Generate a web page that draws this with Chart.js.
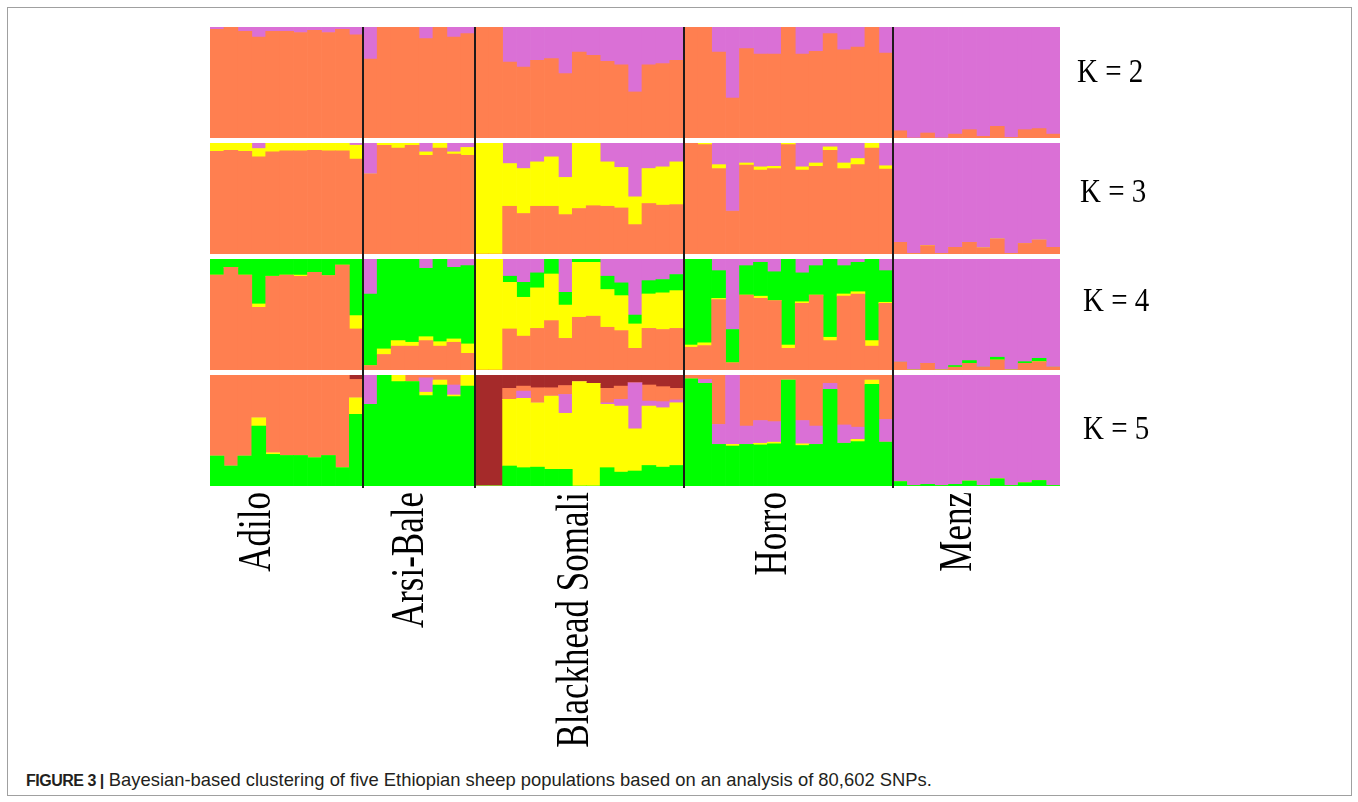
<!DOCTYPE html>
<html>
<head>
<meta charset="utf-8">
<script src="https://cdn.jsdelivr.net/npm/chart.js@4.4.1/dist/chart.umd.min.js"></script>
<style>
  body { margin: 0; background: #fff; width: 1358px; height: 802px; position: relative; overflow: hidden; }
  .frame { position: absolute; left: 7px; top: 7px; width: 1343px; height: 787px; border: 1px solid #a0a0a0; }
  .panel { position: absolute; left: 200px; width: 960px; }
  .caption { position: absolute; left: 26px; top: 769px; font: 18.4px 'Liberation Sans', Arial, sans-serif; color: #231f20; white-space: nowrap; }
  .caption b { font-weight: bold; font-size: 16px; letter-spacing: -0.5px; }
</style>
</head>
<body>
<div class="frame"></div>
<div class="panel" style="top:27px;height:111px"><canvas id="k2"></canvas></div>
<div class="panel" style="top:138px;height:116px"><canvas id="k3"></canvas></div>
<div class="panel" style="top:254px;height:116px"><canvas id="k4"></canvas></div>
<div class="panel" style="top:370px;height:385px"><canvas id="k5"></canvas></div>
<div class="caption"><b>FIGURE 3 |</b> Bayesian-based clustering of five Ethiopian sheep populations based on an analysis of 80,602 SNPs.</div>

<script>
// populations and sample counts (61 individuals)
const populations = ['Adilo', 'Arsi-Bale', 'Blackhead Somali', 'Horro', 'Menz'];
const popSizes = [11, 8, 15, 15, 12];

// cluster membership per individual
// order in each array: Adilo | Arsi-Bale | Blackhead Somali | Horro | Menz
const k2Orange = [
  .98, 1, .96, .91, .96, .96, .95, .97, .95, .98, .93,
  .71, 1, 1, 1, .895, 1, .91, .94,
  1, 1, .685, .64, .70, .715, .58, .775, .745, .69, .66, .415, .66, .67, .70,
  1, 1, .775, .36, .805, .755, .755, 1, .755, .78, .94, .795, .82, 1, .765,
  .065, 0, .045, 0, .035, .075, .015, .105, .005, .075, .085, .035];
const k2Purple = [
  .02, 0, .04, .09, .04, .04, .05, .03, .05, .02, .07,
  .29, 0, 0, 0, .105, 0, .09, .06,
  0, 0, .315, .36, .30, .285, .42, .225, .255, .31, .34, .585, .34, .33, .30,
  0, 0, .225, .64, .195, .245, .245, 0, .245, .22, .06, .205, .18, 0, .235,
  .935, 1, .955, 1, .965, .925, .985, .895, .995, .925, .915, .965];

const k3Orange = [
  .925, .935, .925, .875, .92, .93, .93, .935, .93, .93, .855,
  .72, .98, .955, .98, .89, .955, .9, .89,
  0, 0, .43, .365, .43, .43, .355, .41, .435, .43, .415, .265, .455, .44, .445,
  1, .985, .77, .385, .80, .755, .77, .985, .755, .79, .935, .77, .805, .955, .765,
  .105, .005, .075, .005, .06, .105, .055, .135, .005, .095, .125, .06];
const k3Yellow = [
  .075, .065, .075, .075, .08, .07, .07, .065, .07, .07, .125,
  0, .02, .045, .02, .03, .045, .02, .07,
  1, 1, .385, .405, .40, .445, .335, .59, .565, .40, .365, .25, .315, .345, .385,
  0, .015, .035, 0, .02, .03, .02, .015, .03, .03, .03, .05, .055, .045, .03,
  0, 0, 0, 0, 0, 0, 0, 0, 0, 0, 0, 0];
const k3Purple = [
  0, 0, 0, .05, 0, 0, 0, 0, 0, 0, .02,
  .28, 0, 0, 0, .08, 0, .08, .04,
  0, 0, .185, .23, .17, .125, .31, 0, 0, .17, .22, .485, .23, .215, .17,
  0, 0, .195, .615, .18, .215, .21, 0, .215, .18, .035, .18, .14, 0, .205,
  .895, .995, .925, .995, .94, .895, .945, .865, .995, .905, .875, .94];

const k4Orange = [
  .855, .925, .855, .565, .845, .855, .845, .88, .85, .945, .37,
  .04, .14, .215, .215, .265, .215, .25, .15,
  0, 0, .37, .305, .375, .445, .285, .475, .485, .385, .355, .195, .375, .365, .375,
  .205, .22, .635, .065, .675, .645, .625, .195, .60, .675, .265, .665, .685, .215, .60,
  .07, 0, .06, 0, .025, .06, .025, .09, 0, .06, .075, .025];
const k4Yellow = [
  0, 0, 0, .03, 0, 0, .01, 0, 0, 0, .12,
  0, .05, .05, .035, .035, .04, .03, .085,
  1, 1, .42, .35, .365, .42, .30, .495, .485, .34, .315, .22, .31, .33, .34,
  .02, .025, .01, 0, 0, .02, 0, .03, .015, 0, .03, .02, .02, .05, .01,
  0, 0, 0, 0, 0, 0, 0, 0, 0, 0, 0, 0];
const k4Green = [
  .145, .075, .145, .405, .155, .145, .145, .12, .15, .055, .51,
  .645, .81, .735, .75, .615, .745, .645, .705,
  0, 0, .055, .135, .135, .135, .115, .03, .03, .12, .115, .08, .12, .12, .145,
  .775, .755, .25, .30, .265, .305, .26, .775, .26, .265, .705, .255, .265, .735, .285,
  0, 0, 0, 0, .015, .025, 0, .025, 0, .015, .03, 0];
const k4Purple = [
  0, 0, 0, 0, 0, 0, 0, 0, 0, 0, 0,
  .315, 0, 0, 0, .085, 0, .075, .06,
  0, 0, .155, .21, .125, 0, .30, 0, 0, .155, .215, .505, .195, .185, .14,
  0, 0, .105, .635, .06, .03, .115, 0, .125, .06, 0, .06, .03, 0, .105,
  .93, 1, .94, 1, .96, .915, .975, .885, 1, .925, .895, .975];

const k5Green = [
  .27, .18, .27, .54, .285, .275, .275, .255, .275, .165, .645,
  .735, 1, .94, .94, .815, .91, .805, .9,
  0, 0, .18, .165, .17, .15, .15, 0, 0, .165, .125, .135, .185, .17, .185,
  .965, .925, .375, .36, .375, .37, .38, .955, .365, .375, .87, .385, .40, .915, .395,
  .04, .005, .015, .005, .015, .045, .005, .065, .005, .03, .05, .005];
const k5Yellow = [
  0, 0, 0, .075, .015, 0, 0, 0, 0, 0, .15,
  0, 0, .06, 0, .03, .045, .015, .1,
  0, 0, .60, .625, .58, .66, .505, .94, .925, .57, .595, .38, .535, .535, .565,
  0, 0, 0, .015, 0, .015, .015, 0, .015, 0, 0, 0, .02, .04, 0,
  0, 0, 0, 0, 0, 0, 0, 0, 0, 0, 0, 0];
const k5Purple = [
  0, 0, 0, 0, 0, 0, 0, 0, 0, 0, 0,
  .265, 0, 0, 0, .13, 0, .09, 0,
  0, 0, 0, .065, 0, 0, .17, 0, 0, .015, .06, .415, .045, .055, .025,
  0, .035, .18, .625, .165, .205, .185, 0, .21, .165, .055, .165, .11, 0, .205,
  .96, .995, .985, .995, .985, .955, .995, .935, .995, .97, .95, .995];
const k5Orange = [
  .73, .82, .73, .385, .7, .725, .725, .745, .725, .835, .165,
  0, 0, 0, .06, .025, .045, .09, 0,
  0, 0, .10, .045, .135, .075, .08, 0, 0, .13, .12, 0, .145, .135, .105,
  .035, .04, .445, 0, .46, .41, .42, .045, .41, .46, .075, .45, .47, .045, .40,
  0, 0, 0, 0, 0, 0, 0, 0, 0, 0, 0, 0];
const k5DarkRed = [
  0, 0, 0, 0, 0, 0, 0, 0, 0, 0, .04,
  0, 0, 0, 0, 0, 0, 0, 0,
  1, 1, .12, .10, .115, .115, .095, .06, .075, .12, .10, .07, .09, .105, .12,
  0, 0, 0, 0, 0, 0, 0, 0, 0, 0, 0, 0, 0, 0, 0,
  0, 0, 0, 0, 0, 0, 0, 0, 0, 0, 0, 0];

const ORANGE = '#ff7f50', PURPLE = '#da70d6', YELLOW = '#ffff00', GREEN = '#00ff00', DARKRED = '#a52a2a';

const labels = [];
populations.forEach((p, i) => { for (let j = 1; j <= popSizes[i]; j++) labels.push(p + ' ' + j); });

// separators, K label, population names
const decor = {
  id: 'decor',
  afterDatasetsDraw(chart, args, opts) {
    const { ctx, chartArea: a, scales: { x } } = chart;
    ctx.save();
    ctx.strokeStyle = '#1e1a1a';
    ctx.lineWidth = 2;
    let idx = 0;
    popSizes.slice(0, -1).forEach(n => {
      idx += n;
      const px = Math.round((x.getPixelForValue(idx - 1) + x.getPixelForValue(idx)) / 2);
      ctx.beginPath();
      ctx.moveTo(px, a.top - (opts.lineUp || 0));
      ctx.lineTo(px, a.bottom + (opts.lineExtra || 0));
      ctx.stroke();
    });

    ctx.fillStyle = '#000';
    ctx.textBaseline = 'middle';
    ctx.textAlign = 'left';
    ctx.save();
    ctx.translate(a.right + opts.kDx, a.top + opts.kDy);
    ctx.scale(1, 1.15);
    ctx.font = '29px "Liberation Serif", "Times New Roman", serif';
    ctx.fillText(opts.k, 0, 0);
    ctx.restore();

    if (opts.pops) {
      let start = 0;
      populations.forEach((p, i) => {
        const mid = (x.getPixelForValue(start) + x.getPixelForValue(start + popSizes[i] - 1)) / 2;
        start += popSizes[i];
        ctx.save();
        ctx.translate(mid + opts.popDx[i], a.bottom + 6);
        ctx.rotate(-Math.PI / 2);
        ctx.scale(1, 1.3);
        ctx.font = '35px "Liberation Serif", "Times New Roman", serif';
        ctx.textAlign = 'right';
        ctx.textBaseline = 'alphabetic';
        ctx.fillText(p, 0, 0);
        ctx.restore();
      });
    }
    ctx.restore();
  }
};

function makePanel(id, series, decorOpts, padTop, padBottom) {
  new Chart(document.getElementById(id), {
    type: 'bar',
    data: {
      labels: labels,
      datasets: series.map(s => ({
        data: s[0],
        backgroundColor: s[1],
        borderWidth: 0,
        barPercentage: 1,
        categoryPercentage: 1,
        stack: 'q'
      }))
    },
    options: {
      responsive: true,
      maintainAspectRatio: false,
      animation: false,
      layout: { padding: { left: 10, right: 100, top: padTop, bottom: padBottom } },
      plugins: { legend: { display: false }, tooltip: { enabled: false }, decor: decorOpts },
      scales: {
        x: { stacked: true, display: false },
        y: { stacked: true, display: false, min: 0, max: 1 }
      }
    },
    plugins: [decor]
  });
}

makePanel('k2', [[k2Orange, ORANGE], [k2Purple, PURPLE]],
  { k: 'K = 2', kDx: 17, kDy: 46 }, 0, 0);
makePanel('k3', [[k3Orange, ORANGE], [k3Yellow, YELLOW], [k3Purple, PURPLE]],
  { k: 'K = 3', kDx: 20, kDy: 50, lineUp: 5 }, 5, 0);
makePanel('k4', [[k4Orange, ORANGE], [k4Yellow, YELLOW], [k4Green, GREEN], [k4Purple, PURPLE]],
  { k: 'K = 4', kDx: 23, kDy: 43, lineUp: 5 }, 5, 0);
makePanel('k5', [[k5Green, GREEN], [k5Yellow, YELLOW], [k5Purple, PURPLE], [k5Orange, ORANGE], [k5DarkRed, DARKRED]],
  { k: 'K = 5', kDx: 23, kDy: 55, lineUp: 5, lineExtra: 2, pops: true, popDx: [-17, 4, 9, -2, -5] }, 5, 269);
</script>
</body>
</html>
